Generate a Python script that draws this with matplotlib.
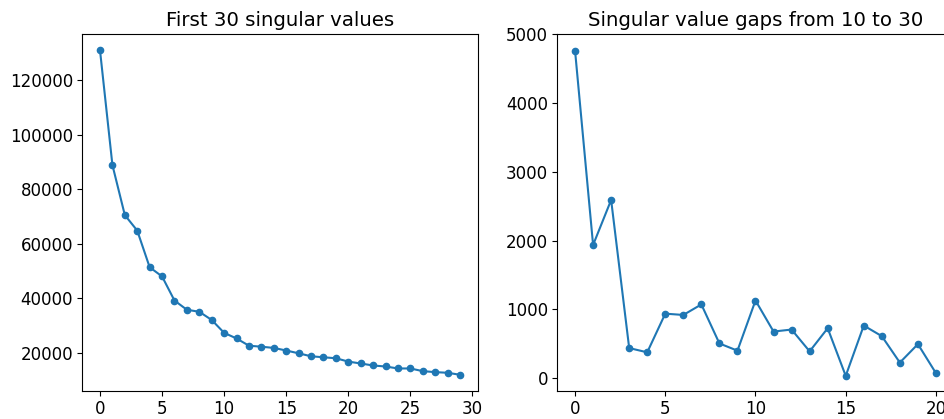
import matplotlib
matplotlib.use('Agg')
import matplotlib.pyplot as plt

# first 30 singular values
singular_values = [130900, 88870, 70540, 64860, 51450, 48070, 39250, 35870,
                   35140, 32130, 27420, 25360, 22710, 22350, 21900, 20950,
                   19930, 18840, 18480, 18120, 16900, 16200, 15470, 15100,
                   14380, 14380, 13400, 13040, 12800, 12070]

# gaps from 10 to 30
gaps = [4760, 1935, 2589, 437, 375, 937, 918, 1071, 504, 399, 1128,
        677, 706, 389, 725, 33, 764, 610, 226, 494, 72]

W, H = 945, 419
fig = plt.figure(figsize=(W / 100, H / 100), dpi=100)

plt.rcParams['font.size'] = 12

ax1 = fig.add_axes([82 / W, 28 / H, 396 / W, 357 / H])
ax1.plot(range(len(singular_values)), singular_values, 'o-', markersize=4.5, linewidth=1.5)
ax1.set_title('First 30 singular values', fontsize=14.2)
ax1.tick_params(labelsize=12, pad=3)

ax2 = fig.add_axes([557 / W, 28 / H, 397 / W, 357 / H])
ax2.plot(range(len(gaps)), gaps, 'o-', markersize=4.5, linewidth=1.5)
ax2.set_title('Singular value gaps from 10 to 30', fontsize=14.2)
ax2.tick_params(labelsize=12, pad=3)
ax2.set_xticks([0, 5, 10, 15, 20])
ax2.set_ylim(-187, 5001)

fig.savefig('out.png', dpi=100)
